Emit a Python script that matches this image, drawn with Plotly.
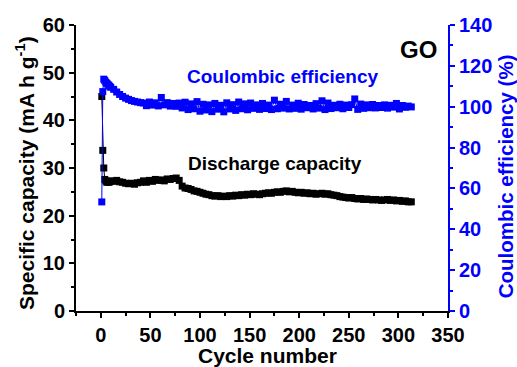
import plotly.graph_objects as go

# ---- data ----
cycles = [1, 2, 3, 4, 5, 6, 7, 8, 9, 10,
          13, 16, 19, 22, 25, 28, 31, 34, 37, 40,
          43, 46, 49, 52, 55, 58, 61, 64, 67, 70,
          73, 76, 79, 82, 85, 88, 91, 94, 97, 100,
          103, 106, 109, 112, 115, 118, 121, 124, 127, 130,
          133, 136, 139, 142, 145, 148, 151, 154, 157, 160,
          163, 166, 169, 172, 175, 178, 181, 184, 187, 190,
          193, 196, 199, 202, 205, 208, 211, 214, 217, 220,
          223, 226, 229, 232, 235, 238, 241, 244, 247, 250,
          253, 256, 259, 262, 265, 268, 271, 274, 277, 280,
          283, 286, 289, 292, 295, 298, 301, 304, 307, 310,
          313]

discharge_capacity = [45.0, 33.7, 30.0, 27.6, 27.3, 27.0, 27.2, 27.0, 27.1, 27.3,
                      27.2, 27.4, 27.1, 27.0, 26.8, 26.7, 26.8, 26.6, 26.9, 27.0,
                      27.3, 27.0, 27.4, 27.2, 27.6, 27.4, 27.5, 27.3, 27.7, 27.6,
                      27.8, 27.9, 27.4, 26.2, 25.8, 25.7, 25.5, 25.2, 25.1, 24.9,
                      24.7, 24.5, 24.4, 24.2, 24.1, 24.2, 24.0, 24.1, 24.0, 24.2,
                      24.1, 24.3, 24.2, 24.4, 24.3, 24.5, 24.4, 24.6, 24.5, 24.4,
                      24.6, 24.7, 24.8, 24.7, 24.9, 25.0, 24.9, 25.1, 25.2, 25.0,
                      25.1, 24.9, 24.8, 24.9, 24.7, 24.8, 24.6, 24.7, 24.5, 24.6,
                      24.7, 24.5, 24.6, 24.4, 24.3, 24.2, 24.0, 23.9, 23.8, 23.7,
                      23.8, 23.6, 23.5, 23.6, 23.4, 23.5, 23.4, 23.3, 23.4, 23.3,
                      23.2, 23.3, 23.4, 23.2, 23.3, 23.1, 23.2, 23.0, 23.1, 22.9,
                      22.9]

coulombic_efficiency = [53.4, 107.4, 113.5, 112.8, 112.0, 111.5, 111.0, 110.5, 110.0, 109.5,
                        108.5, 107.2, 106.0, 105.0, 104.2, 103.6, 103.0, 102.6, 102.3, 102.0,
                        101.8, 100.5, 102.3, 100.8, 101.9, 100.4, 104.5, 100.9, 102.0, 100.3,
                        101.6, 100.2, 101.8, 99.4, 102.2, 98.6, 101.4, 99.0, 102.5, 97.8,
                        101.2, 98.4, 100.9, 97.6, 101.6, 98.8, 100.7, 97.5, 101.9, 98.9,
                        101.0, 98.2, 102.3, 99.0, 101.4, 98.5, 101.8, 99.2, 100.9, 98.7,
                        101.6, 99.1, 100.8, 98.6, 103.2, 99.0, 101.2, 99.3, 102.6, 98.9,
                        100.8, 99.2, 101.7, 98.8, 101.1, 99.5, 100.6, 98.9, 101.5, 99.3,
                        102.9, 98.6, 101.8, 99.1, 100.7, 99.5, 101.2, 99.0, 100.8, 99.6,
                        101.0, 103.8, 98.7, 101.3, 99.2, 100.9, 99.5, 101.1, 99.4, 100.6,
                        99.6, 100.9, 99.3, 100.7, 99.8, 101.6, 98.9, 100.6, 99.7, 100.3,
                        99.9]

assert len(cycles) == len(discharge_capacity) == len(coulombic_efficiency)

FONT = "Liberation Sans, Arial, sans-serif"
BLUE = "#0000FF"

fig = go.Figure()
fig.add_trace(go.Scatter(
    x=cycles, y=discharge_capacity, mode="lines+markers",
    line=dict(color="black", width=1),
    marker=dict(symbol="square", size=7, color="black"),
    xaxis="x", yaxis="y", showlegend=False))
fig.add_trace(go.Scatter(
    x=cycles, y=coulombic_efficiency, mode="lines+markers",
    line=dict(color=BLUE, width=1),
    marker=dict(symbol="square", size=7, color=BLUE),
    xaxis="x", yaxis="y2", showlegend=False))

tickfont = dict(family=FONT, size=20, color="black", weight="bold")

fig.update_layout(
    width=517, height=367,
    margin=dict(l=76, r=69, t=25, b=56, autoexpand=False),
    paper_bgcolor="white", plot_bgcolor="white",
    font=dict(family=FONT),
    xaxis=dict(
        range=[-25, 350], tick0=0, dtick=50, automargin=False,
        showline=True, linecolor="black", linewidth=2,
        ticks="outside", ticklen=5, tickwidth=1.5, tickcolor="black",
        minor=dict(dtick=25, ticks="outside", ticklen=3, tickwidth=1.5, tickcolor="black"),
        showgrid=False, zeroline=False,
        tickfont=tickfont,
    ),
    xaxis2=dict(
        range=[-25, 350], tick0=0, dtick=50, overlaying="x", side="top", anchor="y",
        automargin=False,
        showline=True, linecolor="black", linewidth=2,
        ticks="inside", ticklen=3, tickwidth=1, tickcolor="black",
        minor=dict(dtick=25, ticks="inside", ticklen=2, tickwidth=1, tickcolor="black"),
        showticklabels=False, showgrid=False, zeroline=False,
    ),
    yaxis=dict(
        range=[0, 60], tick0=0, dtick=10, automargin=False,
        showline=True, linecolor="black", linewidth=2,
        ticks="outside", ticklen=5, tickwidth=1.5, tickcolor="black",
        minor=dict(dtick=5, ticks="outside", ticklen=3, tickwidth=1.5, tickcolor="black"),
        showgrid=False, zeroline=False,
        tickfont=tickfont,
    ),
    yaxis2=dict(
        range=[0, 140], tick0=0, dtick=20, overlaying="y", side="right", anchor="x",
        automargin=False,
        showline=True, linecolor=BLUE, linewidth=2,
        ticks="outside", ticklen=5, tickwidth=1.5, tickcolor=BLUE,
        minor=dict(dtick=10, ticks="outside", ticklen=3, tickwidth=1.5, tickcolor=BLUE),
        showgrid=False, zeroline=False,
        tickfont=dict(family=FONT, size=20, color=BLUE, weight="bold"),
    ),
    annotations=[
        # axis titles
        dict(x=0.516, y=-0.154, xref="paper", yref="paper", text="Cycle number",
             showarrow=False, xanchor="center", yanchor="middle",
             font=dict(family=FONT, size=21, color="black", weight="bold")),
        dict(x=-0.137, y=0.4825, xref="paper", yref="paper",
             text="Specific capacity (mA h g<sup>-1</sup>)", textangle=-90,
             showarrow=False, xanchor="center", yanchor="middle",
             font=dict(family=FONT, size=21, color="black", weight="bold")),
        dict(x=1.154, y=0.472, xref="paper", yref="paper",
             text="Coulombic efficiency (%)", textangle=-90,
             showarrow=False, xanchor="center", yanchor="middle",
             font=dict(family=FONT, size=20.5, color=BLUE, weight="bold")),
        # in-plot labels
        dict(x=184, y=49.3, xref="x", yref="y", text="Coulombic efficiency",
             showarrow=False, font=dict(family=FONT, size=19, color=BLUE, weight="bold")),
        dict(x=176, y=31.0, xref="x", yref="y", text="Discharge capacity",
             showarrow=False, font=dict(family=FONT, size=19, color="black", weight="bold")),
        dict(x=320, y=54.8, xref="x", yref="y", text="GO",
             showarrow=False, font=dict(family=FONT, size=24, color="black", weight="bold")),
    ],
)

fig.write_html("out.html")
